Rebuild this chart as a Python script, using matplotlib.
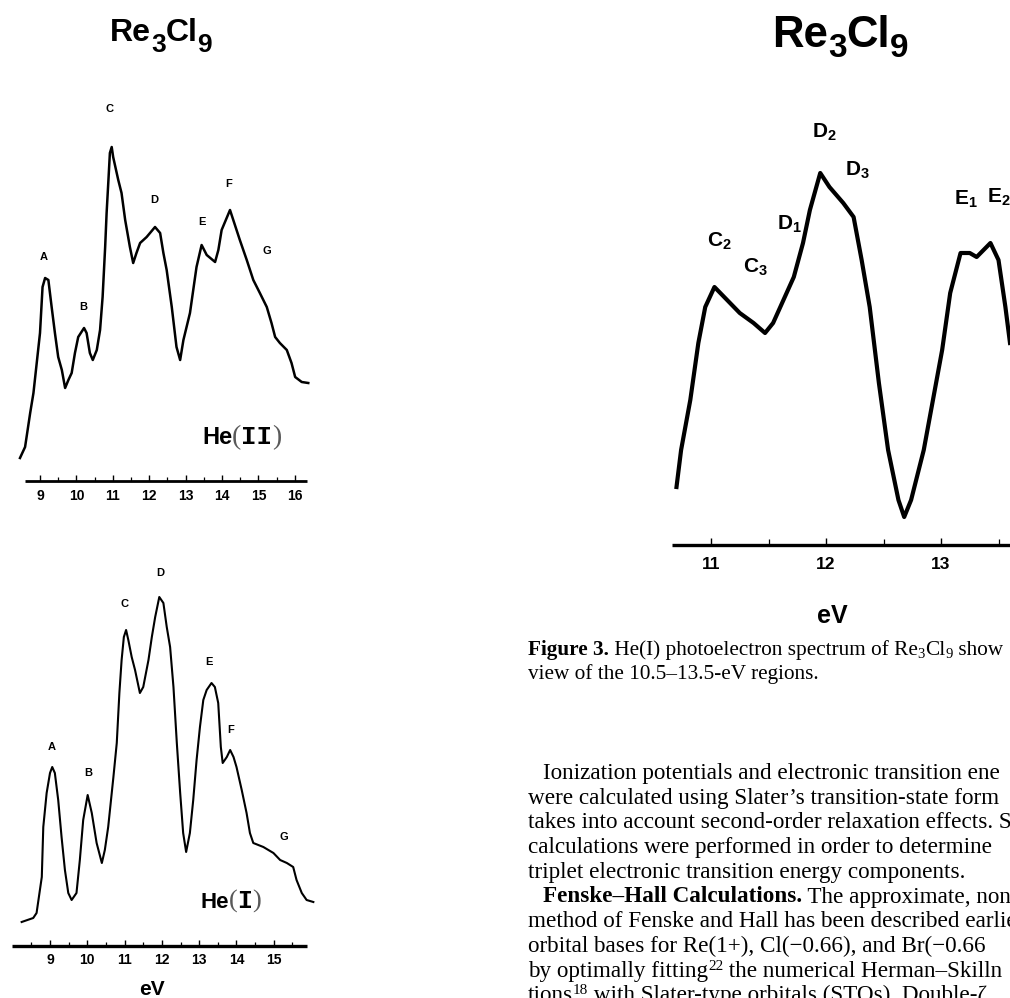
import matplotlib
matplotlib.use("Agg")
import matplotlib.pyplot as plt
from matplotlib.ticker import FixedLocator, FixedFormatter

# ------------------------------------------------------------------ data
# He(II) spectrum (top left): ionization energy (eV) and relative intensity
he2_ev = [8.45, 8.59, 8.73, 8.82, 8.91, 9.00, 9.07, 9.14, 9.23, 9.32,
          9.41, 9.50, 9.60, 9.69, 9.78, 9.87, 9.96, 10.05, 10.21, 10.28,
          10.37, 10.45, 10.56, 10.65, 10.72, 10.79, 10.83, 10.88, 10.92, 10.97,
          11.01, 11.15, 11.24, 11.34, 11.47, 11.56, 11.65, 11.75, 11.93, 12.16,
          12.30, 12.39, 12.48, 12.62, 12.75, 12.85, 12.94, 13.12, 13.21, 13.30,
          13.44, 13.58, 13.81, 13.90, 13.99, 14.22, 14.31, 14.49, 14.68, 14.86,
          15.04, 15.23, 15.36, 15.46, 15.59, 15.78, 15.91, 16.01, 16.19, 16.37]
he2_int = [23, 34, 68, 88, 118, 148, 194, 203, 201, 174,
           148, 124, 111, 93, 101, 108, 128, 144, 153, 148,
           128, 121, 131, 151, 184, 234, 268, 301, 328, 334,
           324, 301, 288, 261, 234, 218, 228, 238, 244, 254,
           248, 228, 211, 174, 134, 121, 141, 168, 191, 214,
           236, 226, 219, 231, 251, 271, 261, 241, 221, 201,
           188, 174, 158, 144, 138, 131, 118, 104, 99, 98]

# He(I) spectrum (bottom left)
he1_ev = [8.24, 8.55, 8.64, 8.78, 8.82, 8.91, 9.00, 9.06, 9.13, 9.22,
          9.31, 9.40, 9.49, 9.58, 9.71, 9.80, 9.89, 10.01, 10.12, 10.25,
          10.39, 10.47, 10.56, 10.70, 10.79, 10.86, 10.92, 10.98, 11.04, 11.10,
          11.19, 11.28, 11.41, 11.50, 11.64, 11.73, 11.82, 11.93, 12.04, 12.13,
          12.22, 12.31, 12.40, 12.49, 12.57, 12.65, 12.75, 12.84, 12.93, 13.02,
          13.11, 13.20, 13.33, 13.42, 13.51, 13.58, 13.63, 13.74, 13.83, 13.92,
          14.00, 14.14, 14.27, 14.36, 14.45, 14.72, 14.99, 15.17, 15.35, 15.52,
          15.61, 15.75, 15.88, 16.06]
he1_int = [24, 28, 33, 69, 119, 153, 173, 179, 173, 146,
           109, 76, 53, 46, 53, 86, 126, 151, 133, 103,
           83, 96, 119, 169, 203, 253, 286, 309, 316, 306,
           289, 276, 253, 259, 286, 309, 329, 349, 343, 319,
           299, 259, 203, 153, 113, 94, 113, 146, 186, 219,
           246, 256, 263, 259, 243, 199, 183, 189, 196, 189,
           179, 156, 133, 113, 103, 99, 93, 86, 83, 79,
           66, 53, 46, 44]

# He(I) expanded view 10.5-13.5 eV (right)
zoom_ev = [10.70, 10.74, 10.82, 10.89, 10.95, 11.03, 11.14, 11.25, 11.37, 11.47,
           11.54, 11.63, 11.72, 11.80, 11.86, 11.95, 12.03, 12.15, 12.24, 12.31,
           12.38, 12.46, 12.54, 12.63, 12.68, 12.74, 12.85, 12.93, 13.01, 13.08,
           13.17, 13.25, 13.31, 13.43, 13.50, 13.56, 13.60]
zoom_int = [58, 95, 145, 202, 238, 258, 245, 232, 222, 212,
            222, 245, 268, 302, 335, 372, 358, 342, 328, 285,
            238, 162, 95, 45, 28, 45, 95, 145, 195, 252,
            292, 292, 288, 302, 285, 238, 202]

he2_ticks = [9, 10, 11, 12, 13, 14, 15, 16]
he1_ticks = [9, 10, 11, 12, 13, 14, 15]
zoom_ticks = [11, 12, 13]
he2_minor = [9.5, 10.5, 11.5, 12.5, 13.5, 14.5, 15.5]
he1_minor = [8.5, 9.5, 10.5, 11.5, 12.5, 13.5, 14.5, 15.5]
zoom_minor = [11.5, 12.5, 13.5]

he2_labels = ["A", "B", "C", "D", "E", "F", "G"]
he1_labels = ["A", "B", "C", "D", "E", "F", "G"]
zoom_labels = [r"$\mathbf{C}_\mathbf{2}$", r"$\mathbf{C}_\mathbf{3}$", r"$\mathbf{D}_\mathbf{1}$",
               r"$\mathbf{D}_\mathbf{2}$", r"$\mathbf{D}_\mathbf{3}$", r"$\mathbf{E}_\mathbf{1}$",
               r"$\mathbf{E}_\mathbf{2}$"]

# ------------------------------------------------------------------ layout
W, H, DPI = 1010, 998, 100
he2_lab_pos = [(9.11, 224), (10.18, 174), (10.92, 372), (12.13, 281), (13.45, 259), (14.19, 297), (15.24, 230)]
he1_lab_pos = [(9.05, 199), (10.02, 173), (11.01, 342), (11.95, 373), (13.26, 284), (13.83, 216), (15.27, 109)]
zoom_lab_pos = [(11.07, 304), (11.39, 278), (11.68, 321), (11.99, 413), (12.27, 375), (13.22, 346), (13.50, 348)]

plt.rcParams["font.family"] = ["Liberation Sans", "DejaVu Sans"]
plt.rcParams["mathtext.fontset"] = "custom"
plt.rcParams["mathtext.bf"] = "Liberation Sans:bold"
plt.rcParams["mathtext.rm"] = "Liberation Sans"

fig = plt.figure(figsize=(W / DPI, H / DPI), dpi=DPI)
fig.patch.set_facecolor("white")


def make_axes(px_left, px_right, px_top, px_axis, ref_px, ref_ev, px_per_ev):
    ax = fig.add_axes([px_left / W, 1 - px_axis / H, (px_right - px_left) / W, (px_axis - px_top) / H])
    ax.set_xlim(ref_ev + (px_left - ref_px) / px_per_ev, ref_ev + (px_right - ref_px) / px_per_ev)
    ax.set_ylim(0, px_axis - px_top)
    ax.patch.set_visible(False)
    return ax


def style_axis(ax, lo, hi, major, minor, lw, size, pad, tlen):
    for s in ("left", "right", "top"):
        ax.spines[s].set_visible(False)
    sp = ax.spines["bottom"]
    sp.set_bounds(lo, hi)
    sp.set_linewidth(lw)
    sp.set_capstyle("butt")
    ax.set_yticks([])
    ax.xaxis.set_major_locator(FixedLocator(major))
    ax.xaxis.set_major_formatter(FixedFormatter([str(t) for t in major]))
    ax.xaxis.set_minor_locator(FixedLocator(minor))
    ax.tick_params(axis="x", which="major", direction="in", length=tlen, width=1.0,
                   labelsize=size, pad=pad, color="black")
    ax.tick_params(axis="x", which="minor", direction="in", length=tlen * 0.8, width=0.9)
    for lab in ax.get_xticklabels():
        lab.set_fontweight("bold")


renderer = fig.canvas.get_renderer()


def run_width(s, props):
    t = fig.text(0, 0, "x" + s + "x", **props)
    w1 = t.get_window_extent(renderer).width
    t.remove()
    t = fig.text(0, 0, "xx", **props)
    w0 = t.get_window_extent(renderer).width
    t.remove()
    return w1 - w0


def text_runs(x_px, y_px, runs, ha="left"):
    runs = [r if len(r) == 4 else (r[0], r[1], r[2], 0) for r in runs]
    widths = [run_width(s, p) + k for s, p, dy, k in runs]
    x = x_px - (sum(widths) / 2 if ha == "center" else 0)
    for (s, p, dy, k), w in zip(runs, widths):
        fig.text((x + k) / W, 1 - (y_px - dy) / H, s, ha="left", va="baseline", **p)
        x += w


# ---------------- top left: He(II)
ax1 = make_axes(5, 325, 90, 481, 40, 9.0, 36.4)
style_axis(ax1, 8.59, 16.33, he2_ticks, he2_minor, 2.0, 10, 5.5, 4)
ax1.plot(he2_ev, he2_int, color="black", lw=1.8, clip_on=False, solid_joinstyle="round")
for lab, (x, y) in zip(he2_labels, he2_lab_pos):
    ax1.text(x, y, lab, ha="center", va="center", fontsize=8, fontweight="bold")

# ---------------- bottom left: He(I)
ax2 = make_axes(5, 325, 560, 946, 50, 9.0, 37.3)
style_axis(ax2, 7.98, 15.88, he1_ticks, he1_minor, 2.4, 10, 5.2, 4)
ax2.plot(he1_ev, he1_int, color="black", lw=1.5, clip_on=False, solid_joinstyle="round")
for lab, (x, y) in zip(he1_labels, he1_lab_pos):
    ax2.text(x, y, lab, ha="center", va="center", fontsize=8, fontweight="bold")

# ---------------- right: expanded He(I)
ax3 = make_axes(660, 1060, 100, 545, 826, 12.0, 115.0)
style_axis(ax3, 10.66, 14.03, zoom_ticks, zoom_minor, 2.4, 12.5, 8.5, 5)
ax3.plot(zoom_ev, zoom_int, color="black", lw=3.0, clip_on=False, solid_joinstyle="round")
for lab, (x, y) in zip(zoom_labels, zoom_lab_pos):
    ax3.text(x, y, lab, ha="center", va="center", fontsize=15)

# ---------------- titles and labels
sans_b = dict(family="Liberation Sans", fontweight="bold")
text_runs(110, 41, [("Re", dict(sans_b, fontsize=23), 0), ("3", dict(sans_b, fontsize=19), -11),
                    ("Cl", dict(sans_b, fontsize=23), 0), ("9", dict(sans_b, fontsize=19), -11)])
text_runs(772, 47, [("Re", dict(sans_b, fontsize=31.5), 0), ("3", dict(sans_b, fontsize=24), -10),
                    ("Cl", dict(sans_b, fontsize=31.5), 0), ("9", dict(sans_b, fontsize=24), -10)])

paren = dict(family="Liberation Serif", fontsize=20, color="0.35")
mono_b = dict(family="Liberation Mono", fontweight="bold")
text_runs(202, 444, [("He", dict(sans_b, fontsize=17), 0), ("(", paren, 0),
                     ("II", dict(mono_b, fontsize=18.5), 0), (")", paren, 0)])
text_runs(200, 908, [("He", dict(sans_b, fontsize=16), 0), ("(", dict(paren, fontsize=19), 0),
                     ("I", dict(mono_b, fontsize=18), 0), (")", dict(paren, fontsize=19), 0)])

fig.text(152 / W, 1 - 995 / H, "eV", ha="center", va="baseline", fontsize=15, fontweight="bold")
fig.text(832 / W, 1 - 623 / H, "eV", ha="center", va="baseline", fontsize=18, fontweight="bold")

# ---------------- caption and body text
serif = dict(family="Liberation Serif", fontsize=15.3)
serif_b = dict(serif, fontweight="bold")
serif_s = dict(family="Liberation Serif", fontsize=10.5)
text_runs(528, 655, [("Figure 3.", serif_b, 0), (" He(I) photoelectron spectrum of Re", serif, 0),
                     ("3", serif_s, -3), ("Cl", serif, 0), ("9", serif_s, -3), (" show", serif, 0)])
text_runs(528, 679, [("view of the 10.5–13.5-eV regions.", serif, 0)])

body = dict(family="Liberation Serif", fontsize=16.7)
body_b = dict(body, fontweight="bold")
body_sup = dict(family="Liberation Serif", fontsize=11)
y0, dy = 779, 24.7
lines = [
    (543, [("Ionization potentials and electronic transition ene", body, 0)]),
    (528, [("were calculated using Slater’s transition-state form", body, 0)]),
    (528, [("takes into account second-order relaxation effects. S", body, 0)]),
    (528, [("calculations were performed in order to determine", body, 0)]),
    (528, [("triplet electronic transition energy components.", body, 0)]),
    (543, [("Fenske–Hall Calculations.", body_b, 0), (" The approximate, none", body, 0)]),
    (528, [("method of Fenske and Hall has been described earlier", body, 0)]),
    (528, [("orbital bases for Re(1+), Cl(−0.66), and Br(−0.66", body, 0)]),
    (528, [("by optimally fitting", body, 0), ("22", body_sup, 7), (" the numerical Herman–Skilln", body, 0)]),
    (528, [("tions", body, 0), ("18", body_sup, 7), (" with Slater-type orbitals (STOs). Double-ζ", body, 0)]),
]
for i, (x, runs) in enumerate(lines):
    text_runs(x, y0 + i * dy, runs)

fig.savefig("out.png", dpi=DPI, facecolor="white")
